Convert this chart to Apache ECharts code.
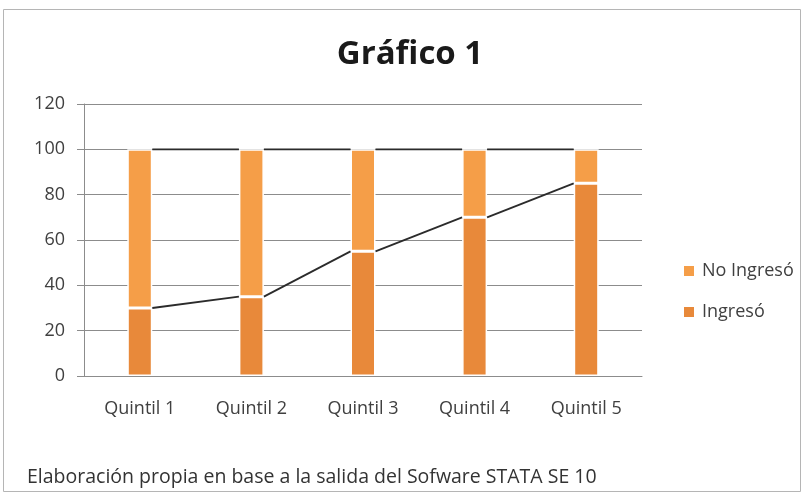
<!DOCTYPE html>
<html>
<head>
<meta charset="utf-8">
<script src="https://cdn.jsdelivr.net/npm/echarts@6.0.0/dist/echarts.min.js"></script>
<style>
    html, body { margin: 0; padding: 0; background: #fff; }
    #main { width: 809px; height: 494px; }
</style>
</head>
<body>
<div id="main"></div>
<script>
var quintiles = ["Quintil 1", "Quintil 2", "Quintil 3", "Quintil 4", "Quintil 5"];
var ingreso = [30, 35, 55, 70, 85];
var noIngreso = [70, 65, 45, 30, 15];
var yTicks = [0, 20, 40, 60, 80, 100, 120];

var fontName = "Open Sans";
var barW = 25;

// cumulative heights for the Excel style "series lines"
var cumIngreso = [];
var cumTotal = [];
for (var i = 0; i < quintiles.length; i++) {
    cumIngreso.push(ingreso[i]);
    cumTotal.push(ingreso[i] + noIngreso[i]);
}
function linkData(arr) {
    var out = [];
    for (var i = 0; i < arr.length - 1; i++) {
        out.push([i, arr[i], arr[i + 1]]);
    }
    return out;
}
function renderLink(params, api) {
    var a = api.coord([api.value(0), api.value(1)]);
    var b = api.coord([api.value(0) + 1, api.value(2)]);
    return {
        type: "line",
        shape: { x1: a[0] + barW / 2, y1: a[1], x2: b[0] - barW / 2, y2: b[1] },
        style: { stroke: "#2b2b2b", lineWidth: 1.8 }
    };
}

var myChart = echarts.init(document.getElementById("main"));
myChart.setOption({
    animation: false,
    backgroundColor: "#fff",
    title: {
        text: "Gráfico 1",
        left: 405,
        top: 33,
        textAlign: "center",
        textStyle: { fontFamily: fontName, fontSize: 33, fontWeight: "bold", color: "#1a1a1a" }
    },
    legend: {
        orient: "vertical",
        left: 677,
        top: 257,
        itemWidth: 12,
        itemHeight: 12,
        itemGap: 23,
        icon: "rect",
        data: ["No Ingresó", "Ingresó"],
        textStyle: { fontFamily: fontName, fontSize: 18, lineHeight: 18, color: "#404040", padding: [0, 0, 0, 2] }
    },
    grid: { left: 84, right: 167, top: 104, bottom: 118, containLabel: false },
    xAxis: {
        type: "category",
        data: quintiles,
        axisLine: { lineStyle: { color: "#8c8c8c" } },
        axisTick: { show: false },
        axisLabel: { fontFamily: fontName, fontSize: 18, color: "#404040", margin: 24 },
        splitLine: { show: false }
    },
    yAxis: {
        type: "value",
        min: yTicks[0],
        max: yTicks[yTicks.length - 1],
        interval: 20,
        axisLine: { show: true, lineStyle: { color: "#8c8c8c" } },
        axisTick: { show: true, length: 7, lineStyle: { color: "#8c8c8c" } },
        axisLabel: { fontFamily: fontName, fontSize: 18, color: "#404040", margin: 19 },
        splitLine: { lineStyle: { color: "#8c8c8c", width: 1 } }
    },
    graphic: [
        {
            type: "rect",
            shape: { x: 3.5, y: 9.5, width: 797, height: 482 },
            style: { fill: "none", stroke: "#b5b5b5", lineWidth: 1 },
            silent: true
        },
        {
            type: "text",
            left: 27,
            top: 467,
            style: {
                text: "Elaboración propia en base a la salida del Sofware STATA SE 10",
                fontFamily: fontName, fontSize: 19.5, fill: "#333"
            }
        }
    ],
    series: [
        {
            name: "Ingresó",
            type: "bar",
            stack: "total",
            barWidth: barW,
            data: ingreso,
            itemStyle: { color: "#E8893A", borderColor: "#fff", borderWidth: 1.5 }
        },
        {
            name: "No Ingresó",
            type: "bar",
            stack: "total",
            barWidth: barW,
            data: noIngreso,
            itemStyle: { color: "#F59E48", borderColor: "#fff", borderWidth: 1.5 }
        },
        {
            type: "custom",
            renderItem: renderLink,
            data: linkData(cumIngreso),
            z: 5,
            silent: true
        },
        {
            type: "custom",
            renderItem: renderLink,
            data: linkData(cumTotal),
            z: 5,
            silent: true
        }
    ]
});
</script>
</body>
</html>
